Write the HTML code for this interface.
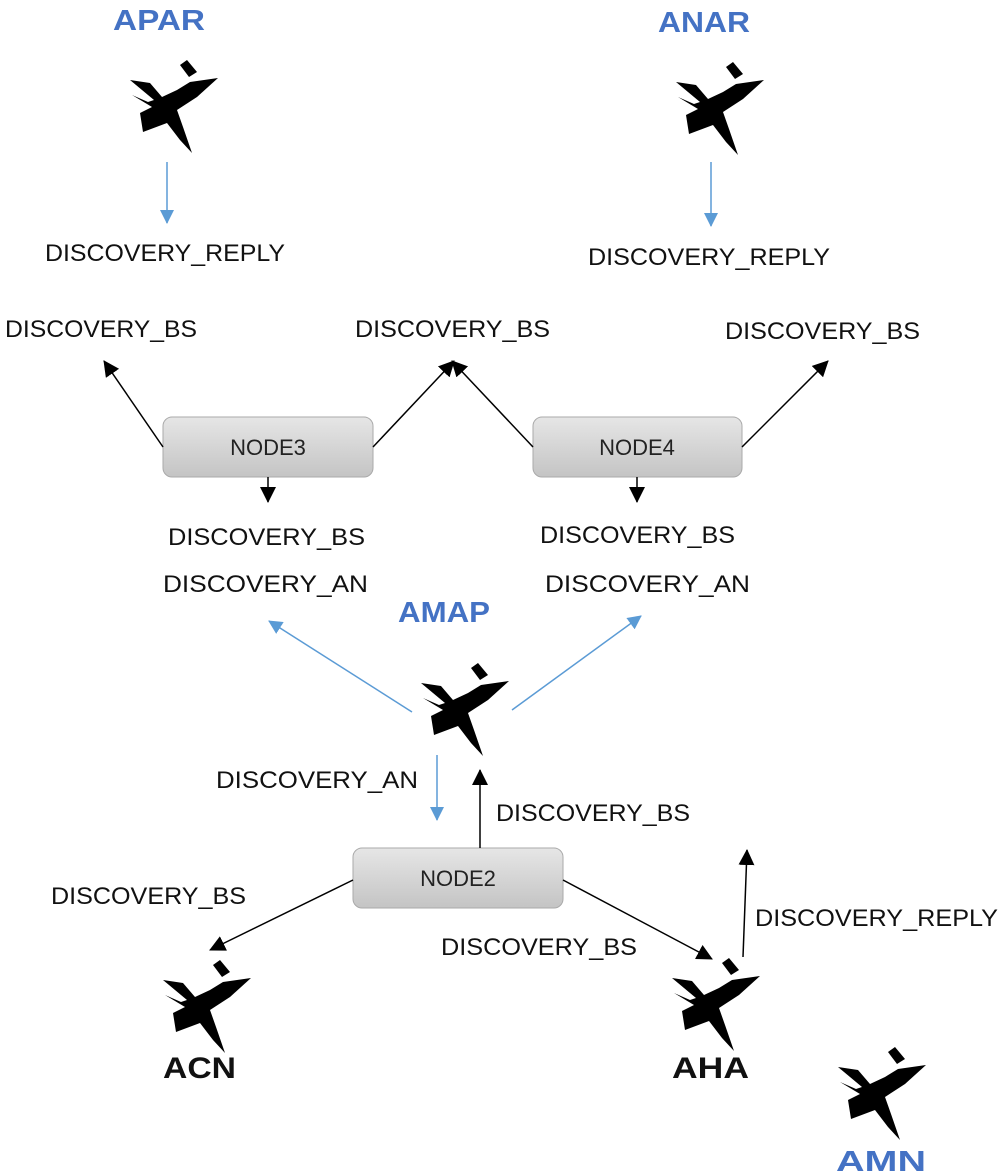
<!DOCTYPE html>
<html><head><meta charset="utf-8"><style>
html,body{margin:0;padding:0;background:#fff;}
svg{display:block;}
text{font-family:"Liberation Sans",sans-serif;}
.t{font-size:24px;fill:#111;}
.b{font-size:29px;font-weight:bold;fill:#4472c4;}
.k{font-size:30px;font-weight:bold;fill:#111;}
.n{font-size:22px;fill:#222;}
</style></head><body>
<svg width="1000" height="1176" viewBox="0 0 1000 1176" xmlns="http://www.w3.org/2000/svg">
<defs>
<g id="plane">
<polygon fill="#000" points="0,20 20,23 32,37 47,30 60,22 88,18 67,37 47,50 53,67 62,93 50,80 37,63 13,72 10,53 22,47 2,35 18,42 24,40"/>
<polygon fill="#000" points="50,5 57,0 67,12 59,17"/>
</g>
<marker id="ab" markerWidth="14" markerHeight="14" refX="13" refY="7" orient="auto" markerUnits="userSpaceOnUse"><path d="M0,0 L14,7 L0,14 z" fill="#5b9bd5"/></marker>
<marker id="ak2" markerWidth="16" markerHeight="16" refX="15" refY="8" orient="auto" markerUnits="userSpaceOnUse"><path d="M0,0 L16,8 L0,16 z" fill="#000"/></marker>
<linearGradient id="g" x1="0" y1="0" x2="0" y2="1"><stop offset="0" stop-color="#e6e6e6"/><stop offset="1" stop-color="#c4c4c4"/></linearGradient>
</defs>

<!-- titles -->
<text class="b" x="113" y="30" textLength="92" lengthAdjust="spacingAndGlyphs">APAR</text>
<text class="b" x="658" y="32" textLength="92" lengthAdjust="spacingAndGlyphs">ANAR</text>
<text class="b" x="398" y="622" textLength="92" lengthAdjust="spacingAndGlyphs">AMAP</text>
<text class="k" x="163" y="1078" textLength="73" lengthAdjust="spacingAndGlyphs">ACN</text>
<text class="k" x="672" y="1078" textLength="77" lengthAdjust="spacingAndGlyphs">AHA</text>
<text class="b" x="836" y="1171" textLength="90" lengthAdjust="spacingAndGlyphs">AMN</text>

<!-- planes -->
<use href="#plane" x="130" y="60"/>
<use href="#plane" x="676" y="62"/>
<use href="#plane" x="421" y="663"/>
<use href="#plane" x="163" y="960"/>
<use href="#plane" x="672" y="958"/>
<use href="#plane" x="838" y="1047"/>

<!-- nodes -->
<rect x="163" y="417" width="210" height="60" rx="9" fill="url(#g)" stroke="#aaa"/>
<text class="n" x="268" y="455" text-anchor="middle">NODE3</text>
<rect x="533" y="417" width="209" height="60" rx="9" fill="url(#g)" stroke="#aaa"/>
<text class="n" x="637" y="455" text-anchor="middle">NODE4</text>
<rect x="353" y="848" width="210" height="60" rx="9" fill="url(#g)" stroke="#aaa"/>
<text class="n" x="458" y="886" text-anchor="middle">NODE2</text>

<!-- arrows -->
<g stroke="#5b9bd5" stroke-width="1.5" fill="none">
<line x1="167" y1="162" x2="167" y2="223" marker-end="url(#ab)"/>
<line x1="711" y1="162" x2="711" y2="226" marker-end="url(#ab)"/>
<line x1="412" y1="712" x2="269" y2="621" marker-end="url(#ab)"/>
<line x1="512" y1="710" x2="641" y2="616" marker-end="url(#ab)"/>
<line x1="437" y1="755" x2="437" y2="820" marker-end="url(#ab)"/>
</g>
<g stroke="#000" stroke-width="1.5" fill="none">
<line x1="163" y1="447" x2="104" y2="361" marker-end="url(#ak2)"/>
<line x1="373" y1="447" x2="454" y2="361" marker-end="url(#ak2)"/>
<line x1="533" y1="447" x2="452" y2="361" marker-end="url(#ak2)"/>
<line x1="742" y1="447" x2="828" y2="361" marker-end="url(#ak2)"/>
<line x1="268" y1="477" x2="268" y2="502" marker-end="url(#ak2)"/>
<line x1="637" y1="477" x2="637" y2="502" marker-end="url(#ak2)"/>
<line x1="480" y1="848" x2="480" y2="770" marker-end="url(#ak2)"/>
<line x1="353" y1="880" x2="210" y2="950" marker-end="url(#ak2)"/>
<line x1="563" y1="880" x2="712" y2="959" marker-end="url(#ak2)"/>
<line x1="743" y1="957" x2="747" y2="850" marker-end="url(#ak2)"/>
</g>

<!-- labels -->
<text class="t" x="45" y="261" textLength="240" lengthAdjust="spacingAndGlyphs">DISCOVERY_REPLY</text>
<text class="t" x="588" y="265" textLength="242" lengthAdjust="spacingAndGlyphs">DISCOVERY_REPLY</text>
<text class="t" x="5" y="337" textLength="192" lengthAdjust="spacingAndGlyphs">DISCOVERY_BS</text>
<text class="t" x="355" y="337" textLength="195" lengthAdjust="spacingAndGlyphs">DISCOVERY_BS</text>
<text class="t" x="725" y="339" textLength="195" lengthAdjust="spacingAndGlyphs">DISCOVERY_BS</text>
<text class="t" x="168" y="545" textLength="197" lengthAdjust="spacingAndGlyphs">DISCOVERY_BS</text>
<text class="t" x="163" y="592" textLength="205" lengthAdjust="spacingAndGlyphs">DISCOVERY_AN</text>
<text class="t" x="540" y="543" textLength="195" lengthAdjust="spacingAndGlyphs">DISCOVERY_BS</text>
<text class="t" x="545" y="592" textLength="205" lengthAdjust="spacingAndGlyphs">DISCOVERY_AN</text>
<text class="t" x="216" y="788" textLength="202" lengthAdjust="spacingAndGlyphs">DISCOVERY_AN</text>
<text class="t" x="496" y="821" textLength="194" lengthAdjust="spacingAndGlyphs">DISCOVERY_BS</text>
<text class="t" x="51" y="904" textLength="195" lengthAdjust="spacingAndGlyphs">DISCOVERY_BS</text>
<text class="t" x="441" y="955" textLength="196" lengthAdjust="spacingAndGlyphs">DISCOVERY_BS</text>
<text class="t" x="755" y="926" textLength="243" lengthAdjust="spacingAndGlyphs">DISCOVERY_REPLY</text>
</svg>
</body></html>
